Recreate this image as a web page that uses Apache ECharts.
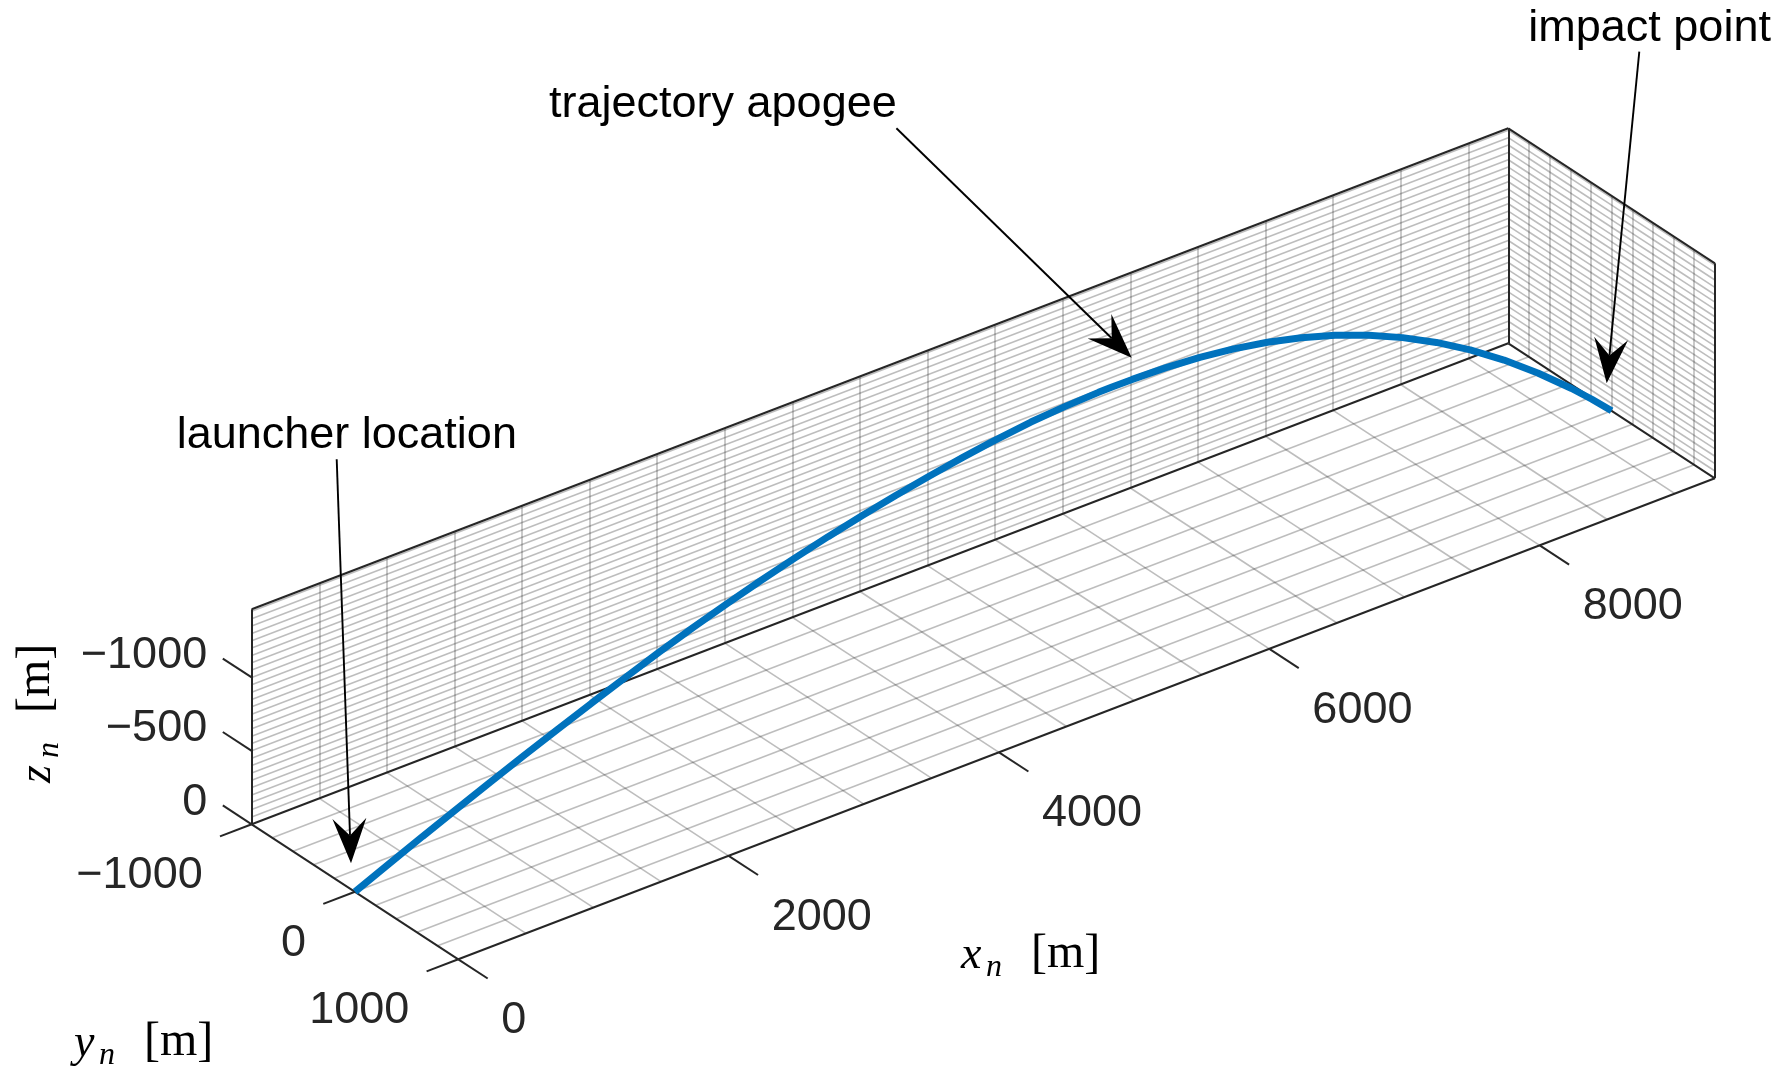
<!DOCTYPE html>
<html>
<head>
<meta charset="utf-8">
<title>trajectory 3D</title>
<script src="https://cdn.jsdelivr.net/npm/echarts@6/dist/echarts.min.js"></script>
<style>
  html, body { margin: 0; padding: 0; background: #fff; }
  #chart { width: 1777px; height: 1079px; }
</style>
</head>
<body>
<div id="chart"></div>
<script>
// trajectory in NED frame [m] (z_n negative = up)
var trajX = [0, 250, 500, 750, 1000, 1250, 1500, 1750, 2000, 2250, 2500, 2750, 3000, 3250,
  3500, 3750, 4000, 4250, 4500, 4700, 5000, 5250, 5500, 5600, 5750, 6000, 6250, 6500, 6750,
  7000, 7250, 7500, 7750, 8000, 8250, 8500, 8750, 9000, 9150, 9296];
var trajY = [0, 0, 0, 0, 0, 0, 0, 0, 0, 0, 0, 0, 0, 0, 0, 0, 0, 0, 0, 0,
  0, 0, 0, 0, 0, 0, 0, 0, 0, 0, 0, 0, 0, 0, 0, 0, 0, 0, 0, 0];
var trajZ = [0, -101, -201, -298, -394, -487, -578, -668, -755, -839, -918, -992, -1061, -1125,
  -1185, -1240, -1289, -1334, -1374, -1403, -1437, -1454, -1463, -1464, -1463, -1455, -1437, -1407, -1364,
  -1307, -1235, -1147, -1043, -922, -783, -626, -450, -256, -130, 0];

// axes
var yLim = [-1000, 1000];
var xTicks = [0, 2000, 4000, 6000, 8000];
var yTicks = [-1000, 0, 1000];
var zTicks = [0, -500, -1000];
var xMinorStep = 500;
var yMinorStep = 200;
var zMinorStep = 50;

// axis tight on x and z
var xLim = [Math.min.apply(null, trajX), Math.max.apply(null, trajX)];
var zLim = [Math.min.apply(null, trajZ), 0];

// where the axes box sits on the page (corner xmin,ymin,z=0 and the three edge vectors)
var box = { ox: 251.7, oy: 824.3, xv: [1256.6, -481], yv: [206.6, 135], zv: [0, -215] };

function proj (x, y, z) {
  var fx = (x - xLim[0]) / (xLim[1] - xLim[0]);
  var fy = (y - yLim[0]) / (yLim[1] - yLim[0]);
  var fz = (z - zLim[1]) / (zLim[0] - zLim[1]);
  return [
    box.ox + fx * box.xv[0] + fy * box.yv[0] + fz * box.zv[0],
    box.oy + fx * box.xv[1] + fy * box.yv[1] + fz * box.zv[1]
  ];
}

function inner (lo, hi, step) {
  var out = [];
  for (var v = Math.ceil(lo / step) * step; v < hi; v += step) {
    if (v > lo) out.push(v);
  }
  return out;
}

var gridSegs = [];
var edgeSegs = [];
function seg (list, a, b) {
  list.push({ coords: [proj(a[0], a[1], a[2]), proj(b[0], b[1], b[2])] });
}

var x0 = xLim[0], x1 = xLim[1], y0 = yLim[0], y1 = yLim[1], zt = zLim[0];

// grid on back wall, right wall and floor
inner(x0, x1, xMinorStep).forEach(function (x) {
  seg(gridSegs, [x, y0, 0], [x, y0, zt]);
  seg(gridSegs, [x, y0, 0], [x, y1, 0]);
});
inner(zt, 0, zMinorStep).forEach(function (z) {
  seg(gridSegs, [x0, y0, z], [x1, y0, z]);
  seg(gridSegs, [x1, y0, z], [x1, y1, z]);
});
inner(y0, y1, yMinorStep).forEach(function (y) {
  seg(gridSegs, [x1, y, 0], [x1, y, zt]);
  seg(gridSegs, [x0, y, 0], [x1, y, 0]);
});

// box outline
seg(edgeSegs, [x0, y0, 0], [x0, y0, zt]);
seg(edgeSegs, [x0, y0, zt], [x1, y0, zt]);
seg(edgeSegs, [x0, y0, 0], [x1, y0, 0]);
seg(edgeSegs, [x1, y0, 0], [x1, y0, zt]);
seg(edgeSegs, [x1, y0, zt], [x1, y1, zt]);
seg(edgeSegs, [x1, y1, zt], [x1, y1, 0]);
seg(edgeSegs, [x1, y0, 0], [x1, y1, 0]);
seg(edgeSegs, [x0, y0, 0], [x0, y1, 0]);
seg(edgeSegs, [x0, y1, 0], [x1, y1, 0]);

// tick marks (pixel direction of each tick) and labels
var tickLen = { x: [29.4, 19.2], y: [-31.7, 12.1], z: [-28.9, -18.9] };
var labelOff = { x: [43, 61.5], y: [-49, 51.5], z: [-44.5, -22] };

function fmt (v) { return v < 0 ? '\u2212' + Math.abs(v) : String(v); }

var graphics = [];
var sans = '"Liberation Sans", Arial, Helvetica, sans-serif';

function addTicks (vals, base, key, align) {
  vals.forEach(function (v) {
    var p = base(v);
    edgeSegs.push({ coords: [p, [p[0] + tickLen[key][0], p[1] + tickLen[key][1]]] });
    graphics.push({
      type: 'text', silent: true, z: 50,
      x: p[0] + labelOff[key][0], y: p[1] + labelOff[key][1],
      style: {
        text: fmt(v), fill: '#262626', fontSize: 45, fontFamily: sans,
        align: align, textAlign: align, verticalAlign: 'middle', textVerticalAlign: 'middle'
      }
    });
  });
}
addTicks(xTicks, function (v) { return proj(v, y1, 0); }, 'x', 'left');
addTicks(yTicks, function (v) { return proj(x0, v, 0); }, 'y', 'right');
addTicks(zTicks, function (v) { return proj(x0, y0, v); }, 'z', 'right');

// axis titles in latex style: symbol, subscript n, [m]
var serif = '"Liberation Serif", "Times New Roman", serif';
function mathLabel (sym, px, py, rot) {
  function t (str, dx, size, italic, base) {
    return {
      type: 'text', x: dx, y: base - 0.3375 * size,
      style: {
        text: str, fill: '#000', fontSize: size, fontFamily: serif, fontStyle: italic ? 'italic' : 'normal',
        align: 'left', textAlign: 'left', verticalAlign: 'middle', textVerticalAlign: 'middle'
      }
    };
  }
  return {
    type: 'group', x: px, y: py, rotation: rot || 0, silent: true, z: 50,
    children: [t(sym, 0, 46, true, 0), t('n', 25, 32, true, 7), t('[m]', 70, 48, false, 0)]
  };
}
graphics.push(mathLabel('x', 961, 971, 0));
graphics.push(mathLabel('y', 74, 1059, 0));
graphics.push(mathLabel('z', 53, 783, Math.PI / 2));

// annotations (figure pixel positions)
var notes = [
  { text: 'launcher location', tx: 176.7, ty: 436, from: [336.7, 459.3], to: [351, 863.3] },
  { text: 'trajectory apogee', tx: 549, ty: 105, from: [896.4, 128.3], to: [1131.7, 357.7] },
  { text: 'impact point', tx: 1528.3, ty: 29, from: [1639.3, 51.7], to: [1606.7, 383.3] }
];
var headLen = 45, headWidth = 34;
notes.forEach(function (n) {
  var dx = n.to[0] - n.from[0], dy = n.to[1] - n.from[1];
  var len = Math.sqrt(dx * dx + dy * dy);
  var ux = dx / len, uy = dy / len, nx = -uy, ny = ux;
  var bx = n.to[0] - headLen * ux, by = n.to[1] - headLen * uy;
  var notch = [n.to[0] - 0.62 * headLen * ux, n.to[1] - 0.62 * headLen * uy];
  graphics.push({
    type: 'text', silent: true, z: 60, x: n.tx, y: n.ty,
    style: {
      text: n.text, fill: '#000', fontSize: 45, fontFamily: sans,
      align: 'left', textAlign: 'left', verticalAlign: 'middle', textVerticalAlign: 'middle'
    }
  });
  graphics.push({
    type: 'line', silent: true, z: 60,
    shape: { x1: n.from[0], y1: n.from[1], x2: notch[0], y2: notch[1] },
    style: { stroke: '#000', lineWidth: 1.9 }
  });
  graphics.push({
    type: 'polygon', silent: true, z: 60,
    shape: { points: [n.to, [bx + nx * headWidth / 2, by + ny * headWidth / 2], notch, [bx - nx * headWidth / 2, by - ny * headWidth / 2]] },
    style: { fill: '#000' }
  });
});

var trajPts = trajX.map(function (x, i) { return proj(x, trajY[i], trajZ[i]); });

var chart = echarts.init(document.getElementById('chart'));
var option = {
  animation: false,
  backgroundColor: '#fff',
  grid: { left: 0, right: 0, top: 0, bottom: 0 },
  xAxis: { type: 'value', min: 0, max: 1777, show: false },
  yAxis: { type: 'value', min: 0, max: 1079, inverse: true, show: false },
  graphic: { elements: graphics },
  series: [
    {
      type: 'lines', coordinateSystem: 'cartesian2d', silent: true, z: 1,
      lineStyle: { color: 'rgba(38,38,38,0.3)', width: 1.6, opacity: 1 },
      data: gridSegs
    },
    {
      type: 'lines', coordinateSystem: 'cartesian2d', silent: true, z: 2,
      lineStyle: { color: '#262626', width: 2, opacity: 1 },
      data: edgeSegs
    },
    {
      type: 'line', silent: true, z: 3, showSymbol: false, symbol: 'none', clip: false,
      lineStyle: { color: '#0072BD', width: 7, cap: 'butt' },
      data: trajPts
    }
  ]
};
chart.setOption(option);
</script>
</body>
</html>
